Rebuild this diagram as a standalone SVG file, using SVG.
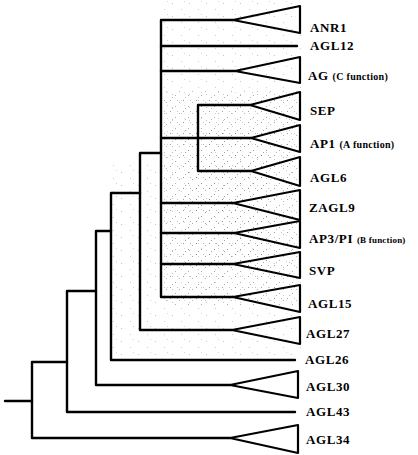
<svg xmlns="http://www.w3.org/2000/svg" width="418" height="455" viewBox="0 0 418 455">
<style>
.ln{fill:none;stroke:#000;stroke-width:2.4;stroke-linejoin:round;stroke-linecap:round}
.tri{fill:none;stroke:#000;stroke-width:2.2;stroke-linejoin:round}
.lb{font-family:"Liberation Serif","Times New Roman",serif;font-size:13px;font-weight:bold;fill:#000;letter-spacing:0.6px}
.sm{font-size:10px;letter-spacing:0.3px}
.xs{font-size:9px;letter-spacing:0.2px}
</style>
<defs>
<pattern id="st1" width="17" height="13" patternUnits="userSpaceOnUse">
<rect x="2" y="3" width="1" height="1" fill="#888"/>
<rect x="11" y="9" width="1" height="1" fill="#999"/>
<rect x="14" y="1" width="1" height="1" fill="#aaa"/>
</pattern>
<pattern id="st2" width="13" height="11" patternUnits="userSpaceOnUse">
<rect x="1" y="1" width="1" height="1" fill="#777"/>
<rect x="6" y="7" width="1" height="1" fill="#888"/>
<rect x="10" y="3" width="1" height="1" fill="#999"/>
<rect x="3" y="9" width="1" height="1" fill="#999"/>
<rect x="8" y="1" width="1" height="1" fill="#aaa"/>
</pattern>
</defs>
<g id="shading">
<rect x="162" y="0" width="140" height="160" fill="url(#st1)" opacity="0.5"/>
<rect x="112" y="160" width="190" height="200" fill="url(#st1)" opacity="0.5"/>
<rect x="163" y="90" width="135" height="215" fill="url(#st2)" opacity="0.7"/>
<rect x="185" y="130" width="85" height="140" fill="url(#st2)" opacity="0.6"/>
</g>
<g id="connectors" class="ln">
<path d="M5,401 H32"/>
<path d="M230,438 H32 V362 H67"/>
<path d="M295,412 H67 V291 H96"/>
<path d="M230,385 H96 V231 H111"/>
<path d="M295,360 H111 V193 H140"/>
<path d="M232,330 H140 V153 H161"/>
<path d="M233,20 H161 V297 H233"/>
<path d="M161,46 H297"/>
<path d="M161,71 H235"/>
<path d="M161,138 H251"/>
<path d="M161,203 H233"/>
<path d="M161,233 H234"/>
<path d="M161,264 H233"/>
<path d="M250,105 H198 V171 H251"/>
</g>
<g id="ANR1"><path class="tri" d="M233,20 L300,6 V33 Z"/><text class="lb" x="310" y="32">ANR1</text></g>
<g id="AGL12"><text class="lb" x="310" y="50">AGL12</text></g>
<g id="AG"><path class="tri" d="M235,71 L300,57 V83 Z"/><text class="lb" x="308" y="80">AG <tspan class="sm">(C function)</tspan></text></g>
<g id="SEP"><path class="tri" d="M250,105 L300,92 V120 Z"/><text class="lb" x="310" y="115">SEP</text></g>
<g id="AP1"><path class="tri" d="M251,138 L300,125 V152 Z"/><text class="lb" x="310" y="148">AP1 <tspan class="sm">(A function)</tspan></text></g>
<g id="AGL6"><path class="tri" d="M251,171 L300,157 V186 Z"/><text class="lb" x="310" y="182">AGL6</text></g>
<g id="ZAGL9"><path class="tri" d="M233,203 L300,190 V220 Z"/><text class="lb" x="309" y="212">ZAGL9</text></g>
<g id="AP3PI"><path class="tri" d="M234,233 L300,221 V248 Z"/><text class="lb" x="309" y="243">AP3/PI <tspan class="xs">(B function)</tspan></text></g>
<g id="SVP"><path class="tri" d="M233,264 L300,252 V278 Z"/><text class="lb" x="309" y="275">SVP</text></g>
<g id="AGL15"><path class="tri" d="M233,297 L300,285 V312 Z"/><text class="lb" x="308" y="308">AGL15</text></g>
<g id="AGL27"><path class="tri" d="M232,330 L300,317 V344 Z"/><text class="lb" x="306" y="338">AGL27</text></g>
<g id="AGL26"><text class="lb" x="305" y="364">AGL26</text></g>
<g id="AGL30"><path class="tri" d="M230,385 L298,371 V398 Z"/><text class="lb" x="306" y="391">AGL30</text></g>
<g id="AGL43"><text class="lb" x="306" y="416">AGL43</text></g>
<g id="AGL34"><path class="tri" d="M230,438 L298,425 V453 Z"/><text class="lb" x="306" y="444">AGL34</text></g>
</svg>
